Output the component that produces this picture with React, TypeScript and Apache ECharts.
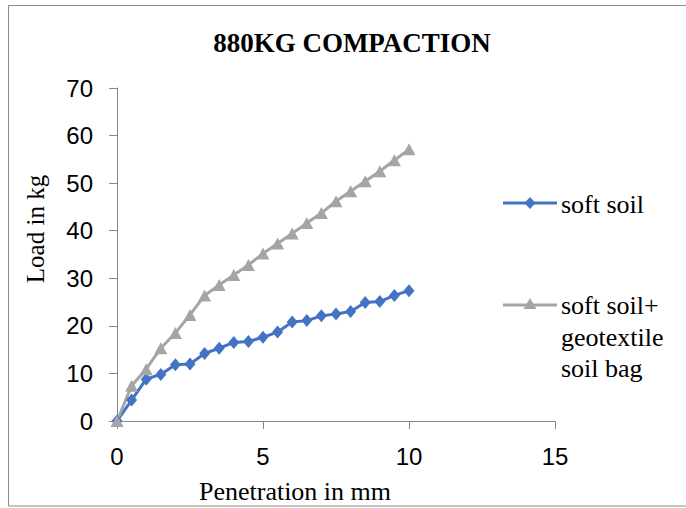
import React, { useEffect, useRef } from "react";
import * as echarts from "echarts";

const penetration = [0, 0.5, 1, 1.5, 2, 2.5, 3, 3.5, 4, 4.5, 5, 5.5, 6, 6.5, 7, 7.5, 8, 8.5, 9, 9.5, 10];
const softSoil = [0, 4.4, 8.8, 9.8, 11.8, 12.0, 14.2, 15.3, 16.5, 16.7, 17.6, 18.7, 20.8, 21.1, 22.1, 22.5, 23.0, 24.9, 25.1, 26.4, 27.4];
const softSoilBag = [0, 7.4, 10.9, 15.3, 18.5, 22.3, 26.4, 28.6, 30.7, 32.8, 35.2, 37.3, 39.4, 41.6, 43.7, 46.2, 48.3, 50.4, 52.5, 54.8, 57.1];
const seriesNames = ["soft soil", "soft soil+\ngeotextile\nsoil bag"];
const chartTitle = "880KG COMPACTION";
const xTitle = "Penetration in mm";
const yTitle = "Load in kg";

const BLUE = "#4472C4";
const GRAY = "#A5A5A5";
const AXIS = "#868686";

export default function App() {
  const ref = useRef<HTMLDivElement>(null);
  useEffect(() => {
    if (!ref.current) return;
    const chart = echarts.init(ref.current, undefined, { renderer: "svg" });
    const serif = "Liberation Serif, Times New Roman, serif";
    const sans = "Liberation Sans, Arial, sans-serif";
    chart.setOption({
      animation: false,
      backgroundColor: "#fff",
      title: {
        text: chartTitle,
        left: 347,
        textAlign: "center",
        top: 24,
        textStyle: { fontFamily: serif, fontWeight: "bold", fontSize: 27, color: "#000" },
      },
      grid: { left: 117, right: 131, top: 88, bottom: 87 },
      xAxis: {
        type: "value",
        min: 0,
        max: 15,
        interval: 5,
        axisLine: { show: true, lineStyle: { color: AXIS, width: 1 } },
        axisTick: { show: true, length: 8, lineStyle: { color: AXIS } },
        axisLabel: { fontFamily: sans, fontSize: 24, color: "#000", margin: 23 },
        splitLine: { show: false },
      },
      yAxis: {
        type: "value",
        min: 0,
        max: 70,
        interval: 10,
        axisLine: { show: true, lineStyle: { color: AXIS, width: 1 } },
        axisTick: { show: true, length: 8, lineStyle: { color: AXIS } },
        axisLabel: { fontFamily: sans, fontSize: 24, color: "#000", margin: 24 },
        splitLine: { show: false },
      },
      series: [
        {
          name: seriesNames[0],
          type: "line",
          data: penetration.map((x, i) => [x, softSoil[i]]),
          symbol: "diamond",
          symbolSize: [11, 13],
          lineStyle: { color: BLUE, width: 3 },
          itemStyle: { color: BLUE },
        },
        {
          name: seriesNames[1],
          type: "line",
          data: penetration.map((x, i) => [x, softSoilBag[i]]),
          symbol: "triangle",
          symbolSize: [13, 12],
          lineStyle: { color: GRAY, width: 3 },
          itemStyle: { color: GRAY },
        },
      ],
      graphic: [
        {
          type: "rect",
          shape: { x: 8.5, y: 5.5, width: 690, height: 500.5 },
          style: { fill: "none", stroke: "#8c8c8c", lineWidth: 1 },
          silent: true,
        },
        {
          type: "text",
          x: 295,
          y: 491,
          style: {
            text: xTitle,
            fontFamily: serif,
            fontSize: 26,
            fill: "#000",
            align: "center",
            verticalAlign: "middle",
          },
        },
        {
          type: "text",
          x: 35,
          y: 229,
          rotation: Math.PI / 2,
          style: {
            text: yTitle,
            fontFamily: serif,
            fontSize: 25,
            fill: "#000",
            align: "center",
            verticalAlign: "middle",
          },
        },
        {
          type: "line",
          shape: { x1: 503, y1: 203, x2: 557, y2: 203 },
          style: { stroke: BLUE, lineWidth: 3 },
        },
        {
          type: "polygon",
          shape: { points: [[530, 197], [535.5, 203], [530, 209], [524.5, 203]] },
          style: { fill: BLUE },
        },
        {
          type: "text",
          x: 561,
          y: 204,
          style: {
            text: seriesNames[0],
            fontFamily: serif,
            fontSize: 26,
            fill: "#000",
            verticalAlign: "middle",
          },
        },
        {
          type: "line",
          shape: { x1: 503, y1: 305, x2: 557, y2: 305 },
          style: { stroke: GRAY, lineWidth: 3 },
        },
        {
          type: "polygon",
          shape: { points: [[530, 298], [536.5, 309], [523.5, 309]] },
          style: { fill: GRAY },
        },
        {
          type: "text",
          x: 561,
          y: 290,
          style: {
            text: seriesNames[1],
            fontFamily: serif,
            fontSize: 26,
            lineHeight: 31.5,
            fill: "#000",
            verticalAlign: "top",
          },
        },
      ],
    });
    return () => chart.dispose();
  }, []);
  return <div ref={ref} style={{ width: 686, height: 508, position: "absolute", left: 0, top: 0 }} />;
}
